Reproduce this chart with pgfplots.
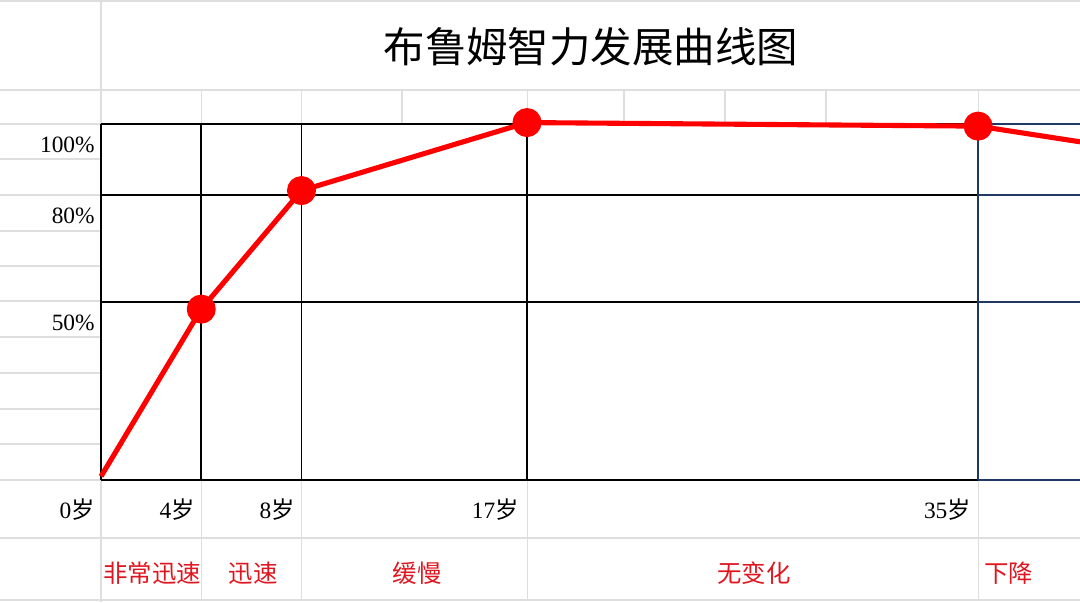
\documentclass[border=0pt]{standalone}
\usepackage{fontspec}
\setmainfont{Liberation Serif}
\newfontfamily\cjk{Noto Sans CJK SC}
\usepackage{pgfplots}
\pgfplotsset{compat=1.18}
\definecolor{gridgray}{RGB}{222,222,222}
\definecolor{navy}{RGB}{32,56,100}
\definecolor{lblred}{RGB}{222,22,32}
\newcommand{\ticklab}[1]{\fontsize{13.3}{15}\selectfont #1}
\newcommand{\stagelab}[1]{\fontsize{13.9}{16}\selectfont\cjk #1}
\begin{document}
\begin{tikzpicture}
\begin{axis}[
  scale only axis,
  width=21.6cm, height=12.04cm,
  xmin=-4.030, xmax=39.066,
  ymin=-34.27, ymax=134.83,
  hide axis,
  clip=true,
]
% bounding box
\path (axis cs:-4.030,-34.27) rectangle (axis cs:39.066,134.83);
% spreadsheet grid (light gray)
\draw[gridgray, line width=0.6pt] (axis cs:-4.03,134.55) -- (axis cs:39.066,134.55);
\draw[gridgray, line width=0.6pt] (axis cs:-4.03,109.55) -- (axis cs:39.066,109.55);
\draw[gridgray, line width=0.6pt] (axis cs:-4.03,-16.29) -- (axis cs:39.066,-16.29);
\draw[gridgray, line width=0.6pt] (axis cs:-4.03,-33.71) -- (axis cs:39.066,-33.71);
\pgfplotsinvokeforeach{100,90.17,80.06,69.94,60.11,50.28,40.17,30.06,19.94,10.11,0}{
  \draw[gridgray, line width=0.6pt] (axis cs:-4.03,#1) -- (axis cs:0,#1);
}
\draw[gridgray, line width=0.6pt] (axis cs:0,134.83) -- (axis cs:0,-34.27);
\pgfplotsinvokeforeach{4,8,12.011,17,20.870,24.900,28.930,35}{
  \draw[gridgray, line width=0.6pt] (axis cs:#1,109.55) -- (axis cs:#1,100);
}
\pgfplotsinvokeforeach{4,8,17,35}{
  \draw[gridgray, line width=0.6pt] (axis cs:#1,0) -- (axis cs:#1,-33.71);
}
% black table lines
\pgfplotsinvokeforeach{100,80,50,0}{
  \draw[black, line width=0.9pt] (axis cs:0,#1) -- (axis cs:35,#1);
  \draw[navy, line width=0.9pt] (axis cs:35,#1) -- (axis cs:39.066,#1);
}
\pgfplotsinvokeforeach{0,4,8,17}{
  \draw[black, line width=0.9pt] (axis cs:#1,0) -- (axis cs:#1,100);
}
\draw[navy, line width=0.9pt] (axis cs:35,0) -- (axis cs:35,100);
% data curve
\addplot[red, line width=2.9pt, line join=round, mark=*, mark size=6.8pt,
  mark indices={2,3,4,5}, mark options={fill=red, draw=none}]
  coordinates {(0,1) (4,48) (8,81.3) (17,100.4) (35,99.4) (39.066,95)};
% title
\node at (axis cs:19.55,121.6) {\fontsize{23.6}{28}\selectfont\cjk 布鲁姆智力发展曲线图};
% x labels
\node[anchor=east, inner sep=0pt] at (axis cs:-0.24,-8.43) {\ticklab{0{\cjk 岁}}};
\node[anchor=east, inner sep=0pt] at (axis cs:3.75,-8.43) {\ticklab{4{\cjk 岁}}};
\node[anchor=east, inner sep=0pt] at (axis cs:7.74,-8.43) {\ticklab{8{\cjk 岁}}};
\node[anchor=east, inner sep=0pt] at (axis cs:16.68,-8.43) {\ticklab{17{\cjk 岁}}};
\node[anchor=east, inner sep=0pt] at (axis cs:34.72,-8.43) {\ticklab{35{\cjk 岁}}};
% y labels
\node[anchor=east, inner sep=0pt] at (axis cs:-0.24,94.1) {\ticklab{100\%}};
\node[anchor=east, inner sep=0pt] at (axis cs:-0.24,74.16) {\ticklab{80\%}};
\node[anchor=east, inner sep=0pt] at (axis cs:-0.24,44.1) {\ticklab{50\%}};
% stage labels
\node[lblred] at (axis cs:2.04,-26.12) {\stagelab{非常迅速}};
\node[lblred] at (axis cs:6.07,-26.12) {\stagelab{迅速}};
\node[lblred] at (axis cs:12.61,-26.12) {\stagelab{缓慢}};
\node[lblred] at (axis cs:26.06,-26.12) {\stagelab{无变化}};
\node[lblred] at (axis cs:36.23,-26.12) {\stagelab{下降}};
\end{axis}
\end{tikzpicture}
\end{document}
